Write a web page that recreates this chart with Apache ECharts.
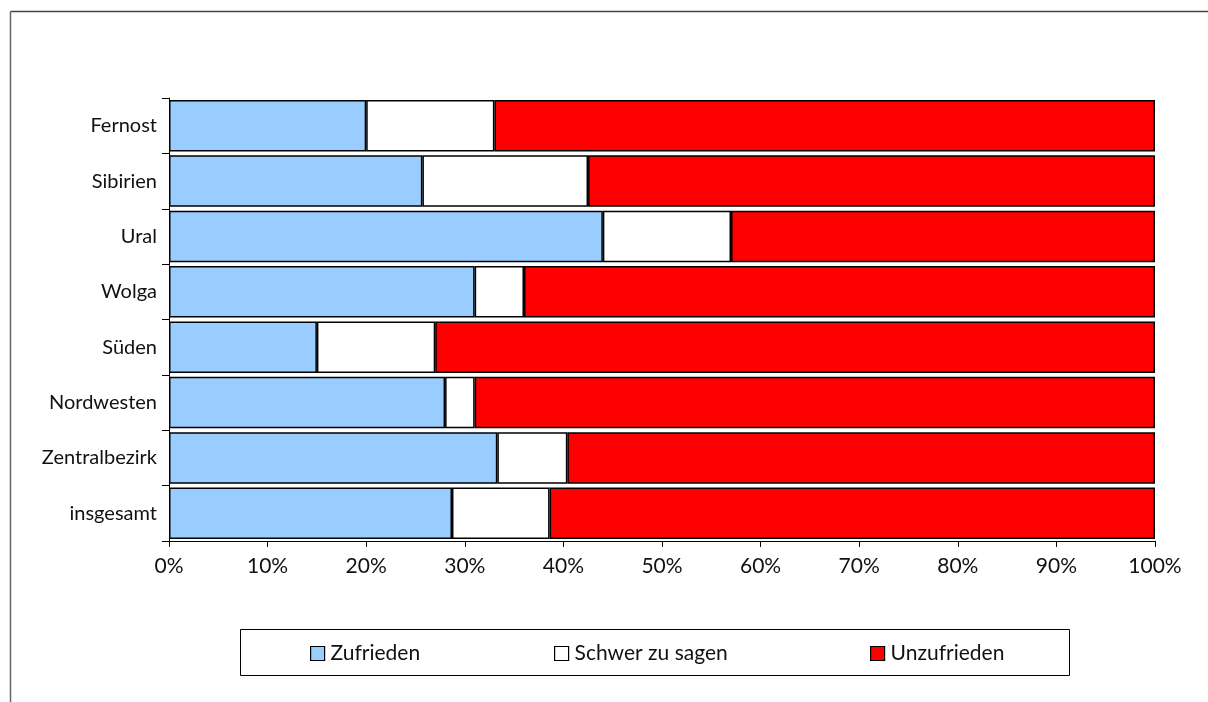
<!DOCTYPE html>
<html>
<head>
<meta charset="utf-8">
<script src="https://cdn.jsdelivr.net/npm/echarts@6/dist/echarts.min.js"></script>
<style>
html,body{margin:0;padding:0;background:#fff;}
#chart{width:1208px;height:702px;}
</style>
</head>
<body>
<div id="chart"></div>
<script>
const categories = ['insgesamt','Zentralbezirk','Nordwesten','Süden','Wolga','Ural','Sibirien','Fernost'];
const zufrieden = [28.7, 33.3, 28, 15, 31, 44, 25.7, 20];
const schwerZuSagen = [9.9, 7.1, 3, 12, 5, 13, 16.8, 13];
const unzufrieden = [61.4, 59.6, 69, 73, 64, 43, 57.5, 67];
const xTicks = [0,10,20,30,40,50,60,70,80,90,100];
const seriesNames = ['Zufrieden','Schwer zu sagen','Unzufrieden'];

const FONT = 'Lato';
const chart = echarts.init(document.getElementById('chart'), null, {renderer:'canvas'});
const colors = ['#99CCFF','#FFFFFF','#FF0000'];
const values = [zufrieden, schwerZuSagen, unzufrieden];

const legendLefts = [310, 554, 870];
chart.setOption({
  animation:false,
  backgroundColor:'#fff',
  textStyle:{fontFamily:FONT},
  grid:{left:169, right:53, top:98, bottom:161, containLabel:false},
  xAxis:{
    type:'value', min:xTicks[0], max:xTicks[xTicks.length-1], interval:10,
    axisLine:{show:true, lineStyle:{color:'#000', width:1}},
    axisTick:{show:true, length:6, lineStyle:{color:'#000'}},
    splitLine:{show:false},
    axisLabel:{formatter:'{value}%', color:'#111', fontSize:21, fontFamily:FONT, margin:15}
  },
  yAxis:{
    type:'category', data:categories,
    axisLine:{show:true, lineStyle:{color:'#000', width:1}},
    axisTick:{show:true, length:7, lineStyle:{color:'#000'}},
    axisLabel:{color:'#111', fontSize:20, fontFamily:FONT, margin:12}
  },
  legend: seriesNames.map((n,i)=>({
    data:[n], left:legendLefts[i], top:643, orient:'horizontal',
    itemWidth:14, itemHeight:14, icon:'rect', padding:0,
    itemStyle:{borderColor:'#000', borderWidth:1.2},
    textStyle:{color:'#111', fontSize:21, fontFamily:FONT, padding:[0,0,0,1]},
    selectedMode:false
  })),
  graphic:[
    {type:'line', shape:{x1:10.5,y1:11.5,x2:1208,y2:11.5}, style:{stroke:'#444', lineWidth:1.5}, silent:true},
    {type:'line', shape:{x1:10.5,y1:11.5,x2:10.5,y2:702}, style:{stroke:'#666', lineWidth:1.5}, silent:true},
    {type:'rect', shape:{x:240.5,y:629.5,width:829,height:46}, style:{fill:'none', stroke:'#000', lineWidth:1}, silent:true, z:-1}
  ],
  series: seriesNames.map((n,i)=>({
    name:n, type:'bar', stack:'total', data:values[i],
    barCategoryGap:'7%',
    itemStyle:{color:colors[i], borderColor:'#000', borderWidth:1.5},
    emphasis:{disabled:true}
  }))
});
</script>
</body>
</html>
